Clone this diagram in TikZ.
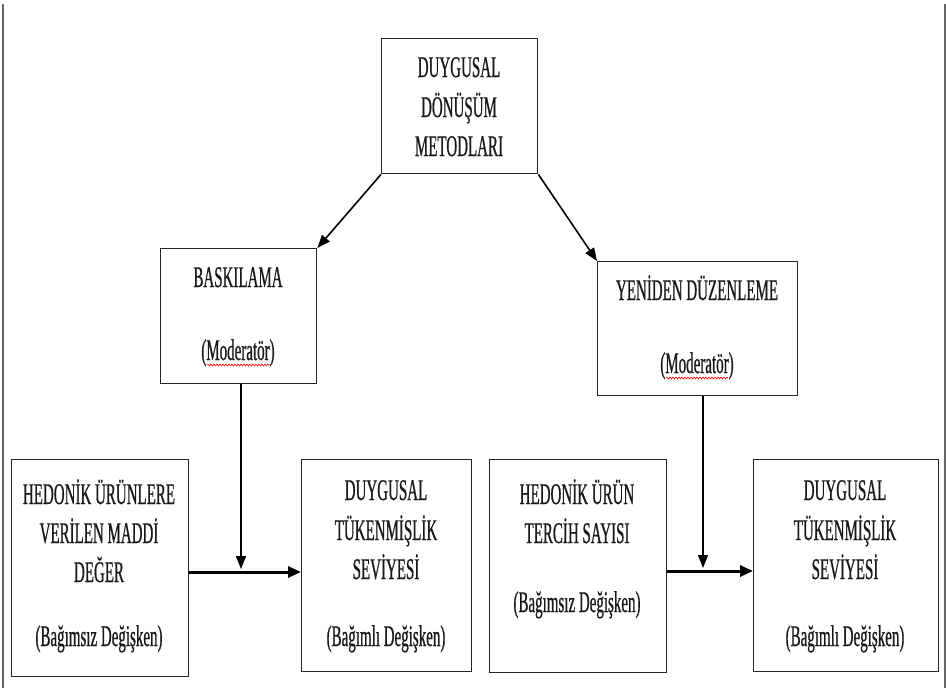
\documentclass[tikz,border=0pt]{standalone}
\usepackage{fontspec}
\setmainfont{Liberation Serif}[FakeStretch=0.5,FakeBold=0.6]
\usetikzlibrary{arrows.meta,decorations.pathmorphing}
\begin{document}
\begin{tikzpicture}[x=1pt,y=-1pt,
  box/.style={draw=black!85,line width=1.4pt,inner sep=0pt,anchor=north west},
  lbl/.style={inner sep=0pt,anchor=base,text=black!90,font=\fontsize{30}{34}\selectfont},
  conn/.style={line width=1.6pt,-{Triangle[length=13pt,width=10pt]}},
  mainarrow/.style={line width=3pt,-{Triangle[length=13pt,width=11pt]}},
  wavy/.style={red,line width=0.6pt,decorate,decoration={snake,amplitude=1pt,segment length=3pt}},
  framel/.style={draw=black!60,line width=2pt}]
\useasboundingbox (0,0) rectangle (946,688);
% side rules
\draw[framel] (3,4) -- (3,688);
\draw[framel] (945,4) -- (945,688);
% boxes
\node[box,minimum width=156pt,minimum height=135pt] (top) at (381,38) {};
\node[box,minimum width=156pt,minimum height=135pt] (bask) at (160,248) {};
\node[box,minimum width=200pt,minimum height=134pt] (yen) at (597,261) {};
\node[box,minimum width=177pt,minimum height=217pt] (b1) at (11,459) {};
\node[box,minimum width=170pt,minimum height=212pt] (b2) at (301,459) {};
\node[box,minimum width=177pt,minimum height=213pt] (b3) at (489,459) {};
\node[box,minimum width=185pt,minimum height=212pt] (b4) at (753,459) {};
% texts
\node[lbl] (t1) at (459,77) {DUYGUSAL};
\node[lbl] (t2) at (459,117) {DÖNÜŞÜM};
\node[lbl] (t3) at (459,156) {METODLARI};
\node[lbl] (k1) at (238,287) {BASKILAMA};
\node[lbl] (k2) at (238,360) {(Moderatör)};
\node[lbl] (y1) at (697,300) {YENİDEN DÜZENLEME};
\node[lbl] (y2) at (697,373) {(Moderatör)};
\node[lbl] (a1) at (99,504) {HEDONİK ÜRÜNLERE};
\node[lbl] (a2) at (99,543) {VERİLEN MADDİ};
\node[lbl] (a3) at (99,582) {DEĞER};
\node[lbl] (a4) at (99,646) {(Bağımsız Değişken)};
\node[lbl] (c1) at (386,500) {DUYGUSAL};
\node[lbl] (c2) at (386,540) {TÜKENMİŞLİK};
\node[lbl] (c3) at (386,579) {SEVİYESİ};
\node[lbl] (c4) at (386,646) {(Bağımlı Değişken)};
\node[lbl] (d1) at (577,504) {HEDONİK ÜRÜN};
\node[lbl] (d2) at (577,543) {TERCİH SAYISI};
\node[lbl] (d3) at (577,612) {(Bağımsız Değişken)};
\node[lbl] (e1) at (845,500) {DUYGUSAL};
\node[lbl] (e2) at (845,540) {TÜKENMİŞLİK};
\node[lbl] (e3) at (845,579) {SEVİYESİ};
\node[lbl] (e4) at (845,646) {(Bağımlı Değişken)};
% spell-check underlines
\draw[wavy] (207,365) -- (270,365);
\draw[wavy] (666,378) -- (728,378);
% connectors
\coordinate (j1) at (241,572);
\coordinate (m1) at (241,569);
\coordinate (j2) at (703,571);
\coordinate (m2) at (703,568);
\draw[conn] (top.south west) -- (bask.north east);
\draw[conn] (top.south east) -- (yen.north west);
\draw[mainarrow] (b1.east |- j1) -- (b2.west |- j1);
\draw[mainarrow] (b3.east |- j2) -- (b4.west |- j2);
\draw[conn] (bask.south -| m1) -- (m1);
\draw[conn] (yen.south -| m2) -- (m2);
\end{tikzpicture}
\end{document}
